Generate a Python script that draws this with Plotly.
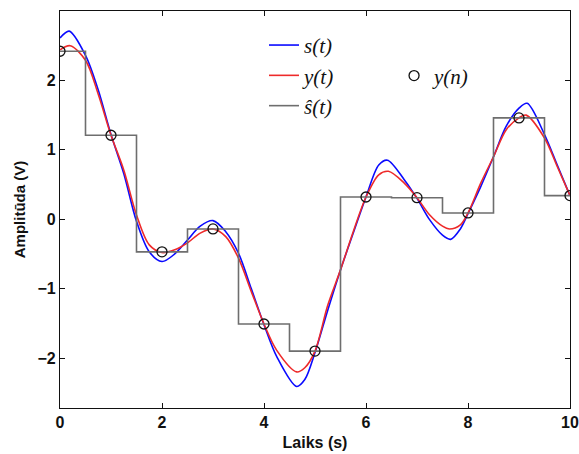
import plotly.graph_objects as go

# sample values y(n), n = 0..10
n_idx = [0, 1, 2, 3, 4, 5, 6, 7, 8, 9, 10]
y_n = [2.42, 1.21, -0.47, -0.14, -1.51, -1.90, 0.32, 0.31, 0.09, 1.46, 0.34]

# s(t) read points
t_s = [0, 0.18, 0.5, 0.75, 1.0, 1.25, 1.5, 1.75, 2.0, 2.25, 2.5, 2.75, 3.0, 3.25, 3.5, 3.75,
       4.0, 4.25, 4.64, 4.8, 5.0, 5.25, 5.5, 5.75, 6.0, 6.25, 6.42, 6.75, 7.0, 7.25, 7.5,
       7.66, 7.85, 8.0, 8.25, 8.5, 8.75, 9.0, 9.16, 9.5, 9.75, 10]
s_t = [2.61, 2.71, 2.36, 1.86, 1.22, 0.66, -0.03, -0.47, -0.61, -0.50, -0.30, -0.10, -0.02,
       -0.18, -0.49, -1.00, -1.52, -1.98, -2.41, -2.31, -1.92, -1.31, -0.73, -0.20, 0.32,
       0.78, 0.85, 0.57, 0.30, -0.01, -0.23, -0.29, -0.14, 0.08, 0.47, 0.90, 1.34, 1.60,
       1.67, 1.22, 0.78, 0.34]

# y(t) read points
t_y = [0, 0.2, 0.5, 0.75, 1.0, 1.25, 1.5, 1.75, 2.0, 2.25, 2.5, 2.75, 3.0, 3.25, 3.5, 3.75,
       4.0, 4.25, 4.64, 4.8, 5.0, 5.25, 5.5, 5.75, 6.0, 6.25, 6.44, 6.75, 7.0, 7.25, 7.5,
       7.64, 7.85, 8.0, 8.25, 8.5, 8.75, 9.0, 9.14, 9.5, 9.75, 10]
y_t = [2.44, 2.50, 2.29, 1.80, 1.21, 0.71, 0.06, -0.37, -0.48, -0.44, -0.34, -0.20, -0.14,
       -0.25, -0.56, -1.04, -1.51, -1.89, -2.20, -2.14, -1.90, -1.24, -0.73, -0.18, 0.32,
       0.64, 0.69, 0.52, 0.31, 0.06, -0.10, -0.14, -0.08, 0.09, 0.52, 0.90, 1.29, 1.46,
       1.50, 1.17, 0.76, 0.34]

x_ticks = [0, 2, 4, 6, 8, 10]
y_ticks = [-2, -1, 0, 1, 2]

# zero-order hold edges
x_step = [0] + [n + 0.5 for n in n_idx[:-1]] + [n_idx[-1]]
y_step = y_n + [y_n[-1]]

fig = go.Figure()
fig.add_trace(go.Scatter(x=t_s, y=s_t, mode="lines",
                         line=dict(color="#0a0aff", width=1.6, shape="spline", smoothing=0.9),
                         name="s(t)", legend="legend"))
fig.add_trace(go.Scatter(x=t_y, y=y_t, mode="lines",
                         line=dict(color="#ee2a2a", width=1.6, shape="spline", smoothing=0.9),
                         name="y(t)", legend="legend"))
fig.add_trace(go.Scatter(x=x_step, y=y_step, mode="lines", line=dict(color="#6e6e6e", width=1.6, shape="hv"),
                         name="ŝ(t)", legend="legend"))
fig.add_trace(go.Scatter(x=n_idx, y=y_n, mode="markers",
                         marker=dict(symbol="circle-open", size=10, color="#111111", line=dict(width=1.3)),
                         name="y(n)", legend="legend2"))

axis_font = dict(family="Liberation Sans, Arial, sans-serif", size=16, color="#111111", weight="bold")
leg_font = dict(family="Liberation Serif, Times New Roman, serif", size=21, style="italic", color="#111")
fig.update_layout(
    width=579, height=454,
    margin=dict(l=60, r=9, t=11, b=46, autoexpand=False),
    paper_bgcolor="white", plot_bgcolor="white",
    legend=dict(x=0.40, y=0.965, xanchor="left", yanchor="top", bgcolor="rgba(0,0,0,0)",
                font=leg_font, tracegroupgap=0),
    legend2=dict(x=0.655, y=0.888, xanchor="left", yanchor="top", bgcolor="rgba(0,0,0,0)",
                 font=leg_font, itemwidth=30),
    showlegend=True,
)
fig.update_xaxes(range=[0, 10], tickvals=x_ticks, ticktext=[str(v) for v in x_ticks],
                 ticks="inside", ticklen=5, tickcolor="#111", showline=True, linecolor="#111", linewidth=1.2,
                 mirror="allticks", showgrid=False, zeroline=False, tickfont=axis_font, automargin=False,
                 title=dict(text="Laiks (s)", font=axis_font, standoff=6))
fig.update_yaxes(range=[-2.72, 3.0], tickvals=y_ticks, ticktext=["−2", "−1", "0", "1", "2"],
                 ticks="inside", ticklen=5, tickcolor="#111", showline=True, linecolor="#111", linewidth=1.2,
                 mirror="allticks", showgrid=False, zeroline=False, tickfont=axis_font, automargin=False,
                 title=dict(text="Amplitūda (V)",
                            font=dict(family="Liberation Sans, Arial, sans-serif", size=15, color="#111", weight="bold"),
                            standoff=8))

fig.write_html("out.html")
